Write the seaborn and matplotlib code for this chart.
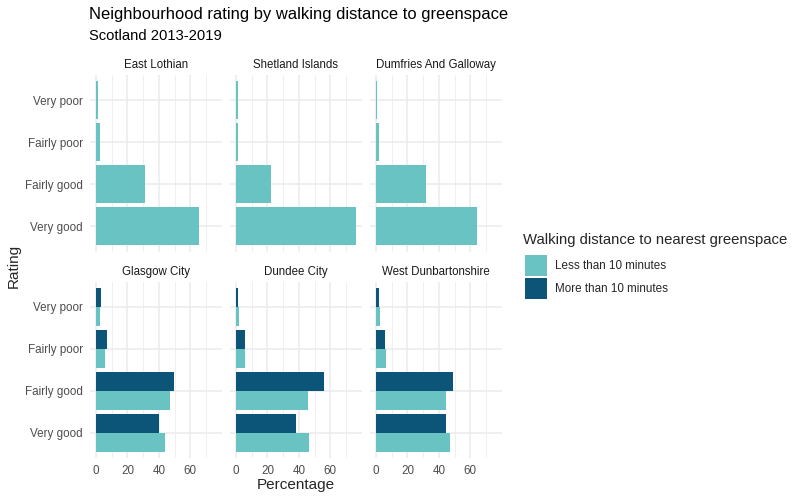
import matplotlib
matplotlib.use("Agg")
import matplotlib.pyplot as plt
import seaborn as sns
import pandas as pd
from matplotlib.patches import Patch
from matplotlib.ticker import FixedLocator

# ---- data ----
areas = ["East Lothian", "Shetland Islands", "Dumfries And Galloway",
         "Glasgow City", "Dundee City", "West Dunbartonshire"]
ratings = ["Very poor", "Fairly poor", "Fairly good", "Very good"]
distances = ["Less than 10 minutes", "More than 10 minutes"]
x_ticks = [0, 20, 40, 60]
x_minor = [10, 30, 50, 70]

less_east_lothian = [1.1, 2.5, 31.4, 65.7]
less_shetland = [1.3, 1.3, 22.1, 76.4]
less_dumfries = [0.8, 2.1, 31.8, 64.6]
less_glasgow = [2.5, 5.7, 47.4, 44.2]
less_dundee = [1.9, 5.7, 46.1, 46.7]
less_west_dunb = [2.7, 6.5, 44.4, 46.9]

more_glasgow = [3.2, 6.9, 49.9, 40.4]
more_dundee = [1.3, 5.7, 56.2, 38.5]
more_west_dunb = [2.1, 5.9, 48.8, 44.4]

less_values = {
    "East Lothian": less_east_lothian,
    "Shetland Islands": less_shetland,
    "Dumfries And Galloway": less_dumfries,
    "Glasgow City": less_glasgow,
    "Dundee City": less_dundee,
    "West Dunbartonshire": less_west_dunb,
}
more_values = {
    "Glasgow City": more_glasgow,
    "Dundee City": more_dundee,
    "West Dunbartonshire": more_west_dunb,
}

records = []
for a in areas:
    for r, v in zip(ratings, less_values[a]):
        records.append((a, r, distances[0], v))
    if a in more_values:
        for r, v in zip(ratings, more_values[a]):
            records.append((a, r, distances[1], v))
df = pd.DataFrame(records, columns=["area", "rating", "distance", "pct"])

light = "#69C3C3"
dark = "#0C5578"
palette = {distances[0]: light, distances[1]: dark}

# ---- style ----
sns.set_theme(style="white")
plt.rcParams['font.family'] = ['Liberation Sans', 'DejaVu Sans']

fig, axes = plt.subplots(2, 3, figsize=(8, 5), dpi=100, sharex=True, sharey=True)
fig.subplots_adjust(left=90/800, right=502/800, top=1-75/500, bottom=1-458/500,
                    wspace=8/132, hspace=30/176.5)

xmax = df["pct"].max()
for ax, a in zip(axes.flat, areas):
    sub = df[df["area"] == a]
    present = [h for h in [distances[1], distances[0]] if h in set(sub["distance"])]
    sns.barplot(data=sub, x="pct", y="rating", hue="distance", hue_order=present,
                order=ratings, palette=palette, width=0.9, orient="h", ax=ax,
                legend=False, saturation=1, errorbar=None, linewidth=0)
    ax.set_xlim(-0.05 * xmax, 1.05 * xmax)
    ax.set_ylim(3.6, -0.6)
    ax.xaxis.set_major_locator(FixedLocator(x_ticks))
    ax.xaxis.set_minor_locator(FixedLocator(x_minor))
    ax.set_axisbelow(True)
    ax.grid(which="major", axis="both", color="#EBEBEB", lw=1.1)
    ax.grid(which="minor", axis="x", color="#EBEBEB", lw=0.55)
    for s in ax.spines.values():
        s.set_visible(False)
    ax.tick_params(which="both", length=0, labelsize=8.4, labelcolor="#4D4D4D", pad=5)
    ax.set_xlabel("")
    ax.set_ylabel("")
    ax.set_title(a, fontsize=8.3, color="#1A1A1A", pad=5)

fig.text(89/800, 1-14/500, "Neighbourhood rating by walking distance to greenspace",
         fontsize=11.9, va="center", ha="left", color="black")
fig.text(89/800, 1-36.5/500, "Scotland 2013-2019",
         fontsize=10.6, va="center", ha="left", color="black")
fig.text(296/800, 1-485/500, "Percentage", fontsize=11, ha="center", va="center")
fig.text(14/800, 1-266/500, "Rating", fontsize=11, ha="center", va="center", rotation=90)

fig.text(523/800, 1-240/500, "Walking distance to nearest greenspace",
         fontsize=10.7, ha="left", va="center")
handles = [Patch(facecolor=light, edgecolor="none", label=distances[0]),
           Patch(facecolor=dark, edgecolor="none", label=distances[1])]
fig.legend(handles=handles, loc="upper left", bbox_to_anchor=(525/800, 1-255/500),
           frameon=False, fontsize=8.4, handlelength=1.89, handleheight=2.39,
           labelspacing=0.17, handletextpad=0.69, borderpad=0, borderaxespad=0)

fig.savefig("out.png", dpi=100)
